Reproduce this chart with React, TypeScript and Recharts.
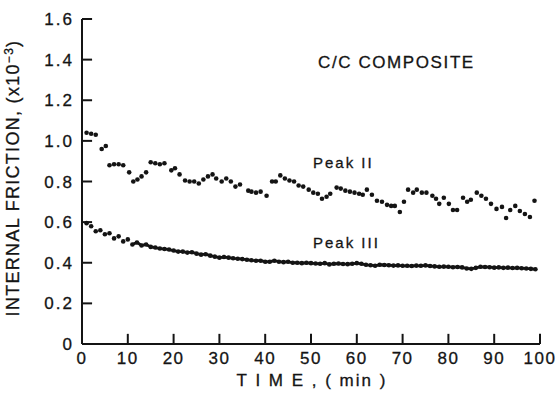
import {
  ComposedChart,
  Scatter,
  Line,
  XAxis,
  YAxis,
  ReferenceLine,
} from "recharts";

const INK = "#141414";
const FONT = "'Liberation Sans', Arial, Helvetica, sans-serif";

const X_TICKS = [0, 10, 20, 30, 40, 50, 60, 70, 80, 90, 100];
const Y_TICKS = [0, 0.2, 0.4, 0.6, 0.8, 1.0, 1.2, 1.4, 1.6];

// Peak II, time (min) and internal friction (x10^-3)
const PEAK_II_TIME = [
  1, 2, 3, 4.3, 5.2, 6, 7, 8, 9, 10.3, 11.2, 12.1, 13, 14, 15, 16, 17, 18,
  19.5, 20.3, 21.3, 22.5, 23.5, 24.5, 25.5, 26.5, 27.5, 28.5, 29.3, 30.5,
  31.5, 32.5, 33.5, 34.5, 36.3, 37, 38, 39, 40.3, 41.5, 42.3, 43.3, 44.3,
  45.3, 46.3, 47.3, 48.3, 49.5, 50.5, 51.5, 52.4, 53.4, 54.2, 55.6, 56.5,
  57.5, 58.5, 59.5, 60.5, 61.3, 62.2, 63.3, 64.4, 65.5, 66.6, 67.5, 68.3,
  69.4, 70.3, 71.2, 72.3, 73.1, 74.2, 75.2, 76.5, 77.3, 78, 79, 80.1, 81,
  81.9, 83.2, 84.1, 84.9, 86.2, 87.2, 88.2, 89.3, 90.5, 91.7, 92.6, 93.5,
  94.6, 95.6, 96.7, 97.8, 98.8,
];
const PEAK_II_VALUE = [
  1.04, 1.035, 1.03, 0.96, 0.975, 0.88, 0.885, 0.885, 0.88, 0.845, 0.8, 0.81,
  0.825, 0.845, 0.895, 0.89, 0.885, 0.89, 0.855, 0.865, 0.835, 0.805, 0.8,
  0.8, 0.79, 0.81, 0.825, 0.835, 0.815, 0.8, 0.815, 0.8, 0.775, 0.785, 0.755,
  0.75, 0.745, 0.75, 0.73, 0.8, 0.8, 0.83, 0.815, 0.805, 0.8, 0.78, 0.775,
  0.76, 0.745, 0.74, 0.715, 0.725, 0.74, 0.77, 0.765, 0.755, 0.75, 0.745,
  0.74, 0.735, 0.76, 0.735, 0.705, 0.7, 0.685, 0.68, 0.68, 0.65, 0.7, 0.76,
  0.745, 0.76, 0.745, 0.745, 0.73, 0.715, 0.69, 0.72, 0.69, 0.66, 0.66, 0.72,
  0.7, 0.71, 0.745, 0.73, 0.715, 0.69, 0.665, 0.675, 0.62, 0.66, 0.68, 0.655,
  0.64, 0.625, 0.705,
];

// Peak III, one reading per minute
const PEAK_III_TIME = [
  1, 2, 3, 4, 5, 6, 7, 8, 9, 10, 11, 12, 13, 14, 15, 16, 17, 18, 19, 20, 21,
  22, 23, 24, 25, 26, 27, 28, 29, 30, 31, 32, 33, 34, 35, 36, 37, 38, 39, 40,
  41, 42, 43, 44, 45, 46, 47, 48, 49, 50, 51, 52, 53, 54, 55, 56, 57, 58, 59,
  60, 61, 62, 63, 64, 65, 66, 67, 68, 69, 70, 71, 72, 73, 74, 75, 76, 77, 78,
  79, 80, 81, 82, 83, 84, 85, 86, 87, 88, 89, 90, 91, 92, 93, 94, 95, 96, 97,
  98, 99,
];
const PEAK_III_VALUE = [
  0.595, 0.58, 0.555, 0.56, 0.54, 0.545, 0.52, 0.53, 0.505, 0.515, 0.49, 0.5,
  0.485, 0.49, 0.478, 0.475, 0.47, 0.468, 0.465, 0.46, 0.455, 0.455, 0.45,
  0.452, 0.445, 0.44, 0.442, 0.435, 0.43, 0.425, 0.428, 0.425, 0.422, 0.42,
  0.418, 0.415, 0.412, 0.41, 0.41, 0.405, 0.405, 0.41, 0.405, 0.403, 0.405,
  0.4, 0.4, 0.398, 0.4, 0.398, 0.396, 0.395, 0.398, 0.392, 0.395, 0.396,
  0.394, 0.393, 0.395, 0.398, 0.395, 0.39, 0.388, 0.385, 0.39, 0.389, 0.388,
  0.386, 0.387, 0.385, 0.385, 0.384, 0.386, 0.385, 0.387, 0.384, 0.382, 0.38,
  0.381, 0.38, 0.378, 0.379, 0.377, 0.372, 0.37, 0.375, 0.38, 0.379, 0.378,
  0.376, 0.377, 0.375, 0.376, 0.374, 0.375, 0.373, 0.372, 0.37, 0.368,
];

const peakII = PEAK_II_TIME.map((t, i) => ({ t, v: PEAK_II_VALUE[i] }));
const peakIII = PEAK_III_TIME.map((t, i) => ({ t, v: PEAK_III_VALUE[i] }));
// after ~11 min the scan shows the points running together into a line
const peakIIISolid = peakIII.filter((d) => d.t >= 11);

const dot = (p: any) => <circle cx={p.cx} cy={p.cy} r={2.3} fill={INK} />;

// inward tick marks, about 10px long, expressed in data units
const X_TICK_LEN = 0.05;
const Y_TICK_LEN = 2.2;
const MARGIN = 8;

const textStyle = {
  fontSize: 17,
  fontFamily: FONT,
  fill: INK,
  stroke: INK,
  strokeWidth: 0.3,
};

function XTick(p: any) {
  return (
    <text
      x={p.x}
      y={p.y - MARGIN + 20}
      textAnchor="middle"
      letterSpacing={1.5}
      {...textStyle}
    >
      {p.payload.value}
    </text>
  );
}

function YTick(p: any) {
  const v = p.payload.value as number;
  return (
    <text
      x={p.x}
      y={p.y + 6}
      textAnchor="end"
      letterSpacing={2}
      {...textStyle}
    >
      {v === 0 ? "0" : v.toFixed(1)}
    </text>
  );
}

export default function App() {
  return (
    <div
      style={{
        position: "absolute",
        left: 0,
        top: 0,
        width: 560,
        height: 398,
        background: "#fff",
      }}
    >
      <ComposedChart
        width={560}
        height={398}
        margin={{ top: 19, right: 20, left: 0, bottom: 0 }}
      >
        <XAxis
          dataKey="t"
          type="number"
          domain={[0, 100]}
          ticks={X_TICKS}
          allowDataOverflow
          height={54}
          stroke={INK}
          axisLine={{ strokeWidth: 2 }}
          tickLine={false}
          tickSize={0}
          tickMargin={MARGIN}
          tick={<XTick />}
        />
        <XAxis
          xAxisId="top"
          orientation="top"
          type="number"
          domain={[0, 100]}
          height={0}
          stroke={INK}
          axisLine={{ strokeWidth: 2 }}
          tick={false}
          tickLine={false}
        />
        <YAxis
          type="number"
          domain={[0, 1.6]}
          ticks={Y_TICKS}
          allowDataOverflow
          width={82}
          stroke={INK}
          axisLine={{ strokeWidth: 2 }}
          tickLine={false}
          tickSize={0}
          tickMargin={MARGIN}
          tick={<YTick />}
        />
        <YAxis
          yAxisId="right"
          orientation="right"
          type="number"
          domain={[0, 1.6]}
          width={0}
          stroke={INK}
          axisLine={{ strokeWidth: 2 }}
          tick={false}
          tickLine={false}
        />
        {X_TICKS.map((t) => (
          <ReferenceLine
            key={`xt${t}`}
            segment={[
              { x: t, y: 0 },
              { x: t, y: X_TICK_LEN },
            ]}
            stroke={INK}
            strokeWidth={2}
            ifOverflow="visible"
          />
        ))}
        {Y_TICKS.map((v) => (
          <ReferenceLine
            key={`yt${v}`}
            segment={[
              { x: 0, y: v },
              { x: Y_TICK_LEN, y: v },
            ]}
            stroke={INK}
            strokeWidth={2}
            ifOverflow="visible"
          />
        ))}
        <Line
          data={peakIIISolid}
          dataKey="v"
          type="linear"
          stroke={INK}
          strokeWidth={2.8}
          dot={false}
          isAnimationActive={false}
        />
        <Scatter
          data={peakIII}
          dataKey="v"
          shape={dot}
          isAnimationActive={false}
        />
        <Scatter
          data={peakII}
          dataKey="v"
          shape={dot}
          isAnimationActive={false}
        />
      </ComposedChart>
      <svg
        width={560}
        height={398}
        style={{ position: "absolute", left: 0, top: 0, pointerEvents: "none" }}
        fontFamily={FONT}
        fill={INK}
        stroke={INK}
        strokeWidth={0.3}
      >
        <text x={318} y={68} fontSize={17} letterSpacing={1.6}>
          C/C COMPOSITE
        </text>
        <text x={313} y={168} fontSize={15} letterSpacing={2}>
          Peak II
        </text>
        <text x={313} y={248} fontSize={15} letterSpacing={2}>
          Peak III
        </text>
        <text
          x={312}
          y={386}
          fontSize={17}
          letterSpacing={2}
          textAnchor="middle"
        >
          T I M E , ( min )
        </text>
        <text
          transform="translate(19,178) rotate(-90)"
          fontSize={18}
          letterSpacing={1.3}
          textAnchor="middle"
        >
          INTERNAL FRICTION, (x10
          <tspan dy={-6} fontSize={12}>
            −3
          </tspan>
          <tspan dy={6}>)</tspan>
        </text>
      </svg>
    </div>
  );
}
